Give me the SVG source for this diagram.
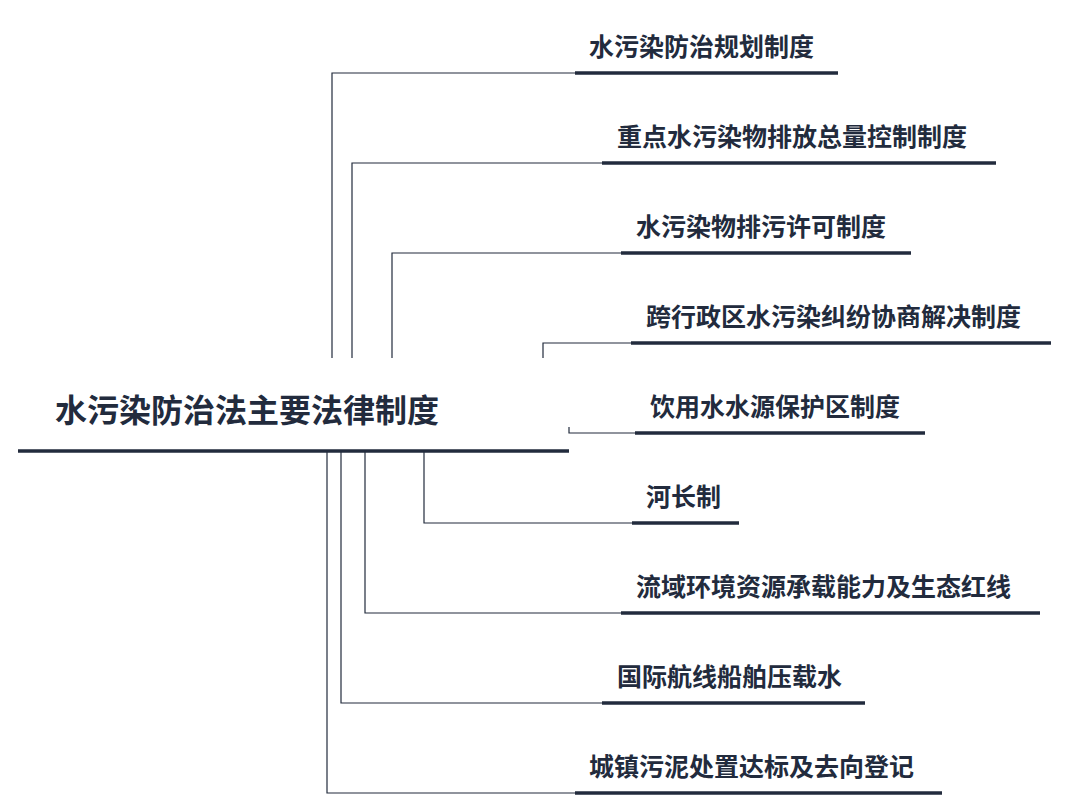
<svg xmlns="http://www.w3.org/2000/svg" width="1070" height="810" viewBox="0 0 1070 810">
<style>
.t{font-family:"Noto Sans CJK SC",sans-serif;font-weight:bold;fill:#222b3d}
.c{font-size:25px}
.u{stroke:#222b3d;stroke-width:3.5}
.l{fill:none;stroke:#222b3d;stroke-width:1.2}
</style>
<rect width="1070" height="810" fill="#fff"/>
<g id="connectors">
<path class="l" d="M332,358V73H575"/>
<path class="l" d="M352,358V163H602"/>
<path class="l" d="M392,358V253H621"/>
<path class="l" d="M543,358V343H631"/>
<path class="l" d="M569,427V433H635"/>
<path class="l" d="M424,452V523H632"/>
<path class="l" d="M365,452V613H621"/>
<path class="l" d="M341,452V703H602"/>
<path class="l" d="M327,452V793H575"/>
</g>
<g id="root"><text class="t" x="55" y="422" font-size="32">水污染防治法主要法律制度</text><line class="u" x1="18" y1="451" x2="569" y2="451" stroke-width="4"/></g>
<g id="n1"><text class="t c" x="589" y="56">水污染防治规划制度</text><line class="u" x1="575" y1="73" x2="838" y2="73"/></g>
<g id="n2"><text class="t c" x="617" y="146">重点水污染物排放总量控制制度</text><line class="u" x1="602" y1="163" x2="996" y2="163"/></g>
<g id="n3"><text class="t c" x="636" y="236">水污染物排污许可制度</text><line class="u" x1="621" y1="253" x2="911" y2="253"/></g>
<g id="n4"><text class="t c" x="646" y="326">跨行政区水污染纠纷协商解决制度</text><line class="u" x1="631" y1="343" x2="1051" y2="343"/></g>
<g id="n5"><text class="t c" x="650" y="416">饮用水水源保护区制度</text><line class="u" x1="635" y1="433" x2="925" y2="433"/></g>
<g id="n6"><text class="t c" x="646" y="506">河长制</text><line class="u" x1="632" y1="523" x2="739" y2="523"/></g>
<g id="n7"><text class="t c" x="636" y="596">流域环境资源承载能力及生态红线</text><line class="u" x1="621" y1="613" x2="1040" y2="613"/></g>
<g id="n8"><text class="t c" x="617" y="686">国际航线船舶压载水</text><line class="u" x1="602" y1="703" x2="865" y2="703"/></g>
<g id="n9"><text class="t c" x="589" y="776">城镇污泥处置达标及去向登记</text><line class="u" x1="575" y1="793" x2="942" y2="793"/></g>
</svg>
